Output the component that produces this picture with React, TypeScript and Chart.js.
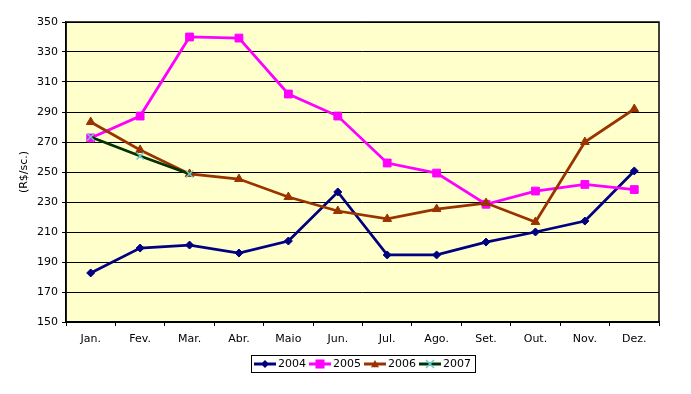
import React, { useEffect, useRef } from "react";
import { Chart, registerables } from "chart.js";

Chart.register(...registerables);

const months = ["Jan.", "Fev.", "Mar.", "Abr.", "Maio", "Jun.", "Jul.", "Ago.", "Set.", "Out.", "Nov.", "Dez."];
const s2004 = [182.7, 199.3, 201.3, 196, 204, 236.7, 194.7, 194.7, 203.3, 210, 217.3, 250.7];
const s2005 = [272.7, 287.3, 340, 339.3, 302, 287.3, 256, 249.3, 228.5, 237.3, 241.7, 238.3];
const s2006 = [283.3, 264.7, 248.7, 245.3, 233.3, 224, 218.7, 225.3, 229.3, 216.7, 270, 292];
const s2007 = [273.3, 260.7, 248.7, null, null, null, null, null, null, null, null, null];
const seriesLabels = ["2004", "2005", "2006", "2007"];
const yTitle = "(R$/sc.)";

const FONT = "'DejaVu Sans', sans-serif";

const plotBg = {
  id: "plotBg",
  beforeDraw(chart: any) {
    const { ctx, chartArea: a } = chart;
    ctx.save();
    ctx.fillStyle = "#FFFFCC";
    ctx.fillRect(a.left, a.top, a.right - a.left, a.bottom - a.top);
    ctx.restore();
  },
  afterDatasetsDraw(chart: any) {
    const { ctx, chartArea: a } = chart;
    ctx.save();
    ctx.strokeStyle = "#000";
    ctx.lineWidth = 1.5;
    ctx.strokeRect(a.left, a.top, a.right - a.left, a.bottom - a.top);
    ctx.restore();
  },
};

function drawMarker(ctx: CanvasRenderingContext2D, style: string, x: number, y: number, r: number, fill: string, stroke: string) {
  ctx.save();
  ctx.fillStyle = fill;
  ctx.strokeStyle = stroke;
  ctx.lineWidth = 1.5;
  ctx.beginPath();
  if (style === "rectRot") {
    ctx.moveTo(x, y - r); ctx.lineTo(x + r, y); ctx.lineTo(x, y + r); ctx.lineTo(x - r, y); ctx.closePath(); ctx.fill();
  } else if (style === "rect") {
    ctx.rect(x - r, y - r, 2 * r, 2 * r); ctx.fill();
  } else if (style === "triangle") {
    ctx.moveTo(x, y - r); ctx.lineTo(x + r, y + r * 0.8); ctx.lineTo(x - r, y + r * 0.8); ctx.closePath(); ctx.fill();
  } else {
    ctx.moveTo(x - r, y - r); ctx.lineTo(x + r, y + r); ctx.moveTo(x + r, y - r); ctx.lineTo(x - r, y + r); ctx.stroke();
  }
  ctx.restore();
}

const customLegend = {
  id: "customLegend",
  afterDraw(chart: any) {
    const { ctx } = chart;
    const boxX = 251, boxY = 355, boxW = 224, boxH = 17;
    ctx.save();
    ctx.fillStyle = "#fff";
    ctx.fillRect(boxX, boxY, boxW, boxH);
    ctx.strokeStyle = "#000";
    ctx.lineWidth = 1;
    ctx.strokeRect(boxX + 0.5, boxY + 0.5, boxW, boxH);
    ctx.font = `11px ${FONT}`;
    ctx.textBaseline = "middle";
    ctx.textAlign = "left";
    let x = boxX + 3;
    const cy = boxY + boxH / 2 + 0.5;
    chart.data.datasets.forEach((ds: any) => {
      ctx.strokeStyle = ds.borderColor;
      ctx.lineWidth = 3;
      ctx.beginPath();
      ctx.moveTo(x, cy);
      ctx.lineTo(x + 22, cy);
      ctx.stroke();
      drawMarker(ctx, ds.pointStyle, x + 11, cy, ds.pointStyle === "rect" ? 4.5 : 4, ds.pointBackgroundColor, ds.pointBorderColor);
      ctx.fillStyle = "#000";
      ctx.fillText(ds.label, x + 24, cy);
      x += 24 + ctx.measureText(ds.label).width + 3;
    });
    ctx.restore();
  },
};

export default function App() {
  const ref = useRef<HTMLCanvasElement>(null);
  useEffect(() => {
    const data = [s2004, s2005, s2006, s2007];
    const colors = ["#000080", "#FF00FF", "#993300", "#003300"];
    const pointFill = ["#000080", "#FF00FF", "#993300", "#66CCCC"];
    const styles = ["rectRot", "rect", "triangle", "crossRot"];
    const radii = [4, 5.5, 5, 5];
    const chart = new Chart(ref.current!, {
      type: "line",
      data: {
        labels: months,
        datasets: data.map((d, i) => ({
          label: seriesLabels[i],
          data: d,
          borderColor: colors[i],
          backgroundColor: pointFill[i],
          pointBackgroundColor: pointFill[i],
          pointBorderColor: pointFill[i],
          pointBorderWidth: i === 3 ? 1.5 : 1,
          pointStyle: styles[i],
          pointRadius: radii[i],
          borderWidth: 2.75,
          tension: 0,
          spanGaps: false,
          order: 3 - i,
        })),
      },
      options: {
        animation: false,
        responsive: false,
        layout: { padding: { left: 14, right: 32, top: 22, bottom: 0 } },
        plugins: { legend: { display: false }, tooltip: { enabled: false } },
        scales: {
          x: {
            offset: true,
            grid: { display: true, offset: true, drawOnChartArea: false, color: "#000", tickLength: 4, tickWidth: 1 },
            border: { display: true, color: "#000", width: 1.5 },
            ticks: { color: "#000", font: { family: FONT, size: 11 }, padding: 7, maxRotation: 0, autoSkip: false },
            afterFit: (s: any) => { s.height = 72; },
          },
          y: {
            min: 150,
            max: 350,
            grid: { color: "#000", lineWidth: 1, tickLength: 4 },
            border: { display: true, color: "#000", width: 1.5 },
            ticks: { stepSize: 20, color: "#000", font: { family: FONT, size: 11 }, padding: 4 },
            title: { display: true, text: yTitle, color: "#000", font: { family: FONT, size: 11 }, padding: { top: 4, bottom: 4 } },
            afterFit: (s: any) => { s.width = 52; },
          },
        },
      },
      plugins: [plotBg, customLegend],
    });
    return () => chart.destroy();
  }, []);
  return (
    <div style={{ position: "absolute", left: 0, top: 0, width: 691, height: 394, background: "#fff" }}>
      <canvas ref={ref} width={691} height={394} style={{ display: "block" }} />
    </div>
  );
}
